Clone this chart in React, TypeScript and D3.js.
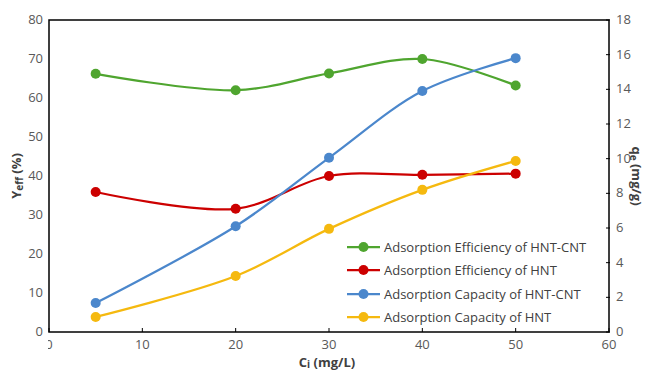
import React, { useEffect, useRef } from 'react';
import * as d3 from 'd3';

const concentrations = [5, 20, 30, 40, 50];
const effHntCnt = [66.2, 62.0, 66.3, 70.0, 63.2];
const effHnt = [35.9, 31.6, 40.0, 40.3, 40.6];
const capHntCnt = [1.67, 6.1, 10.05, 13.9, 15.8];
const capHnt = [0.87, 3.23, 5.95, 8.2, 9.87];
const xTicks = [0, 10, 20, 30, 40, 50, 60];
const leftTicks = [0, 10, 20, 30, 40, 50, 60, 70, 80];
const rightTicks = [0, 2, 4, 6, 8, 10, 12, 14, 16, 18];
const seriesNames = [
  'Adsorption Efficiency of HNT-CNT',
  'Adsorption Efficiency of HNT',
  'Adsorption Capacity of HNT-CNT',
  'Adsorption Capacity of HNT',
];
const seriesColors = ['#4fa52f', '#cc0000', '#4b87cc', '#f5b90f'];

const App = () => {
  const ref = useRef<SVGSVGElement>(null);

  useEffect(() => {
    if (!ref.current) return;
    const svg = d3.select(ref.current);
    svg.selectAll('*').remove();

    const margin = { top: 20, right: 37, bottom: 38, left: 49 };
    const W = 646, H = 370;
    const width = W - margin.left - margin.right;
    const height = H - margin.top - margin.bottom;

    const x = d3.scaleLinear().domain([0, 60]).range([0, width]);
    const yL = d3.scaleLinear().domain([0, 80]).range([height, 0]);
    const yR = d3.scaleLinear().domain([0, 18]).range([height, 0]);

    svg.append('rect').attr('width', W).attr('height', H).attr('fill', '#fff');

    const g = svg.append('g').attr('transform', `translate(${margin.left},${margin.top})`);
    const font = 'Open Sans, sans-serif';
    const tickColor = '#595959';

    // frame
    g.append('rect').attr('width', width).attr('height', height)
      .attr('fill', 'none').attr('stroke', '#000').attr('stroke-width', 1.5);

    // bottom ticks (inside)
    g.selectAll('.xt').data(xTicks).enter().append('line')
      .attr('x1', d => x(d)).attr('x2', d => x(d))
      .attr('y1', height).attr('y2', height - 4)
      .attr('stroke', '#000').attr('stroke-width', 1);
    const clip = svg.append('clipPath').attr('id', 'xclip');
    clip.append('rect').attr('x', margin.left - 1).attr('y', 0).attr('width', W).attr('height', H);
    g.append('g').attr('clip-path', 'url(#xclip)').attr('transform', `translate(${-margin.left},${-margin.top})`)
      .selectAll('text').data(xTicks).enter().append('text')
      .attr('x', d => x(d) + margin.left).attr('y', height + margin.top + 17)
      .attr('text-anchor', 'middle').attr('font-family', font).attr('font-size', 13)
      .attr('fill', tickColor).text(d => d);

    // left ticks labels
    g.selectAll('.yl').data(leftTicks).enter().append('text')
      .attr('x', -6).attr('y', d => yL(d) + 4)
      .attr('text-anchor', 'end').attr('font-family', font).attr('font-size', 13)
      .attr('fill', tickColor).text(d => d);

    // right ticks
    g.selectAll('.yrt').data(rightTicks).enter().append('line')
      .attr('x1', width - 3).attr('x2', width + 1)
      .attr('y1', d => yR(d)).attr('y2', d => yR(d))
      .attr('stroke', '#000').attr('stroke-width', 1);
    g.selectAll('.yr').data(rightTicks).enter().append('text')
      .attr('x', width + 7).attr('y', d => yR(d) + 4)
      .attr('text-anchor', 'start').attr('font-family', font).attr('font-size', 13)
      .attr('fill', tickColor).text(d => d);

    // axis titles
    const lt = svg.append('text').attr('transform', `translate(21,${margin.top + height / 2}) rotate(-90)`)
      .attr('text-anchor', 'middle').attr('font-family', font).attr('font-size', 13)
      .attr('font-weight', 'bold').attr('fill', '#404040');
    lt.append('tspan').text('Y');
    lt.append('tspan').attr('font-size', 10).attr('dy', 2).text('eff');
    lt.append('tspan').attr('dy', -2).text(' (%)');

    const bt = svg.append('text').attr('x', margin.left + width / 2 - 2).attr('y', 367)
      .attr('text-anchor', 'middle').attr('font-family', font).attr('font-size', 13)
      .attr('font-weight', 'bold').attr('fill', '#404040');
    bt.append('tspan').text('C');
    bt.append('tspan').attr('font-size', 10).attr('dy', 1).text('i');
    bt.append('tspan').attr('dy', -1).text(' (mg/L)');

    const rt = svg.append('text').attr('transform', `translate(632,${margin.top + height / 2}) rotate(90)`)
      .attr('text-anchor', 'middle').attr('font-family', font).attr('font-size', 13)
      .attr('font-weight', 'bold').attr('fill', '#404040');
    rt.append('tspan').text('q');
    rt.append('tspan').attr('font-size', 10).attr('dy', 2).text('e');
    rt.append('tspan').attr('dy', -2).text(' (mg/g)');

    const series = [
      { vals: effHntCnt, scale: yL },
      { vals: effHnt, scale: yL },
      { vals: capHntCnt, scale: yR },
      { vals: capHnt, scale: yR },
    ];

    series.forEach((s, i) => {
      const pts = concentrations.map((c, j) => [c, s.vals[j]] as [number, number]);
      const line = d3.line<[number, number]>()
        .x(d => x(d[0])).y(d => s.scale(d[1]))
        .curve(d3.curveCatmullRom.alpha(0.5));
      g.append('path').datum(pts).attr('d', line).attr('fill', 'none')
        .attr('stroke', seriesColors[i]).attr('stroke-width', 2.25);
      g.selectAll(`.pt${i}`).data(pts).enter().append('circle')
        .attr('cx', d => x(d[0])).attr('cy', d => s.scale(d[1])).attr('r', 5)
        .attr('fill', seriesColors[i]);
    });

    // legend
    const legendRows = [247, 270, 294, 317];
    seriesNames.forEach((name, i) => {
      const lg = svg.append('g').attr('transform', `translate(347,${legendRows[i]})`);
      lg.append('line').attr('x1', 0).attr('x2', 33).attr('y1', 0).attr('y2', 0)
        .attr('stroke', seriesColors[i]).attr('stroke-width', 2.25);
      lg.append('circle').attr('cx', 16.5).attr('cy', 0).attr('r', 5).attr('fill', seriesColors[i]);
      lg.append('text').attr('x', 37).attr('y', 4.5).attr('font-family', font).attr('font-size', 13)
        .attr('fill', '#404040').text(name);
    });
  }, []);

  return (
    <svg ref={ref} width={646} height={370} style={{ position: 'absolute', left: 0, top: 0 }} />
  );
};

export default App;
